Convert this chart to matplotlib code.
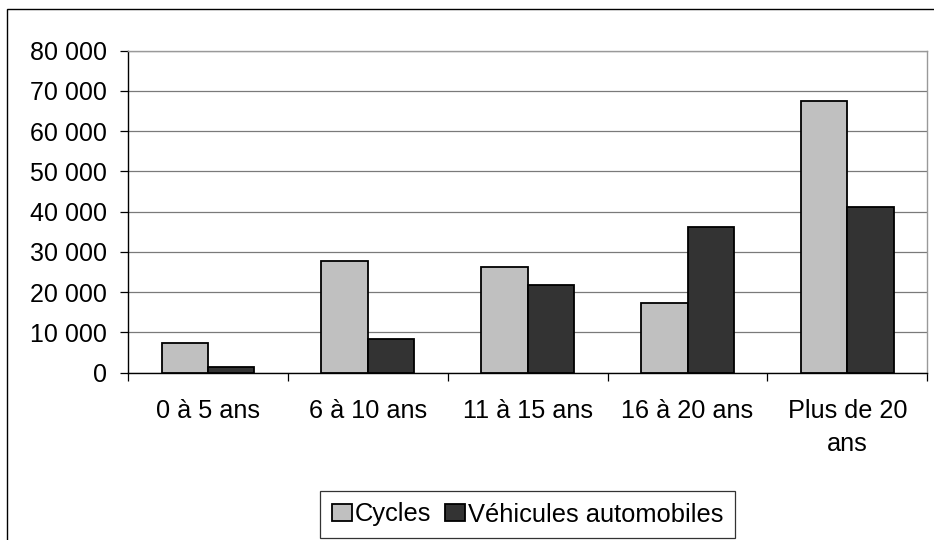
import numpy as np
import matplotlib
matplotlib.use('Agg')
import matplotlib.pyplot as plt
from matplotlib.patches import Rectangle

plt.rcParams['font.family'] = ['Liberation Sans', 'DejaVu Sans']

categories = ['0 à 5 ans', '6 à 10 ans', '11 à 15 ans', '16 à 20 ans', 'Plus de 20\nans']
cycles = [7450, 27800, 26300, 17400, 67600]
vehicules = [1500, 8450, 21800, 36300, 41250]
yticks = [0, 10000, 20000, 30000, 40000, 50000, 60000, 70000, 80000]

fig = plt.figure(figsize=(9.34, 5.40), dpi=100)
ax = fig.add_axes([128/934, 1-372.7/540, (927.3-128)/934, (372.7-50.7)/540])

x = np.arange(len(categories))
w = 0.29
ax.bar(x - w/2, cycles, w, color='#c0c0c0', edgecolor='black', linewidth=1.3,
       label='Cycles', zorder=3)
ax.bar(x + w/2, vehicules, w, color='#333333', edgecolor='black', linewidth=1.3,
       label='Véhicules automobiles', zorder=3)

ax.set_xlim(-0.5, len(categories) - 0.5)
ax.set_ylim(0, 80000)
ax.set_yticks(yticks)
ax.set_yticklabels([f'{v:,}'.replace(',', ' ') for v in yticks])
ax.yaxis.grid(True, color='#7a7a7a', linewidth=0.9, zorder=0)

# category boundaries as ticks, labels at centres
ax.set_xticks(np.arange(len(categories) + 1) - 0.5)
ax.set_xticklabels([])
ax.set_xticks(x, minor=True)
ax.set_xticklabels(categories, minor=True, linespacing=1.45)
ax.tick_params(axis='x', which='minor', length=0, pad=19, labelsize=18.2)
ax.tick_params(axis='x', which='major', length=6, width=0.9, direction='out')
ax.tick_params(axis='y', length=6, width=0.9, direction='out', pad=9, labelsize=18)

for s in ['top', 'right']:
    ax.spines[s].set_color('#999999')
    ax.spines[s].set_linewidth(1.0)
for s in ['left', 'bottom']:
    ax.spines[s].set_color('black')
    ax.spines[s].set_linewidth(1.0)

leg = ax.legend(loc='upper center', bbox_to_anchor=(527.5/934, 1-491/540),
                bbox_transform=fig.transFigure, ncol=2, frameon=True, fancybox=False,
                fontsize=18.4, handlelength=0.8, handleheight=0.65, handletextpad=0.1,
                columnspacing=0.55, borderpad=0.45, borderaxespad=0)
leg.get_frame().set_edgecolor('black')
leg.get_frame().set_linewidth(0.9)

# outer chart border (cut off at right and bottom)
fig.patches.append(Rectangle((7/934, -0.1), 1.2, 1.1 - 8.5/540, transform=fig.transFigure,
                             fill=False, edgecolor='black', linewidth=1.0))

fig.savefig('out.png', dpi=100)
